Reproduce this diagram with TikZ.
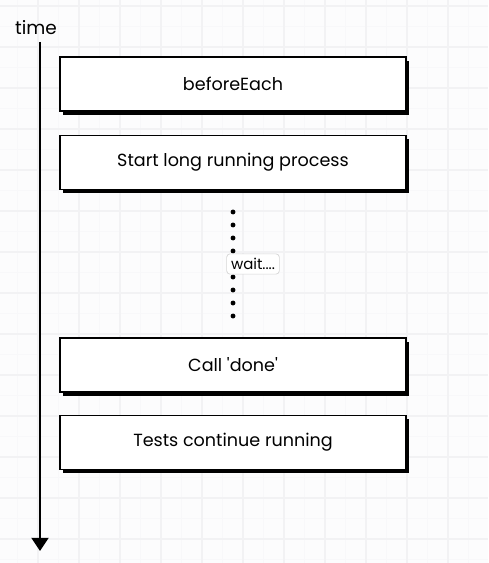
\documentclass[tikz,border=0pt]{standalone}
\usepackage{fontspec}
\setmainfont{Poppins}
\usepackage{xcolor}
\usepackage{tikz}
\usetikzlibrary{arrows.meta, positioning, shapes, shadows}

\definecolor{paper}{HTML}{FCFCFD}
\definecolor{gridmajor}{HTML}{F2F2F4}
\definecolor{gridminor}{HTML}{F8F8FA}
\definecolor{waitframe}{HTML}{D6D6D6}

\tikzset{
  stepbox/.style={draw, line width=1pt, fill=white, minimum width=6.92cm, minimum height=1.08cm,
    drop shadow={shadow xshift=1.8pt, shadow yshift=-2pt, fill=black, opacity=1},
    font=\fontsize{10}{12}\selectfont},
  waitbox/.style={draw=waitframe, fill=white, rounded corners=2pt, inner sep=2.5pt,
    font=\fontsize{8.5}{10}\selectfont}
}

\begin{document}
\begin{tikzpicture}[x=0.02cm, y=-0.02cm]
      % Paper and faint grid
      \fill[paper] (0,0) rectangle (488,563);
      \useasboundingbox (0,0) rectangle (488,563);
      \foreach \x in {17.5,58.5,...,488} {
        \draw[gridminor, line width=0.4pt] (\x,0) -- (\x,563);
      }
      \foreach \y in {26.5,67.5,...,563} {
        \draw[gridminor, line width=0.4pt] (0,\y) -- (488,\y);
      }
      \foreach \x in {38,79,...,488} {
        \draw[gridmajor, line width=0.6pt] (\x,0) -- (\x,563);
      }
      \foreach \y in {6,47,...,563} {
        \draw[gridmajor, line width=0.6pt] (0,\y) -- (488,\y);
      }

      % Time axis
      \node (time) at (36,28) {\fontsize{10.5}{12}\selectfont time};
      \coordinate (tTop) at (40,42);
      \coordinate (tEnd) at (40,551);
      \draw[line width=1.7pt, -{Triangle[length=7.5pt, width=9.5pt]}] (tTop) -- (tEnd);

      % Steps
      \node[stepbox] (before) at (233,84) {beforeEach};
      \node[stepbox] (start) at (233,162.5) {Start long running process};
      \node[stepbox] (done) at (233,365) {Call \textquotesingle done\textquotesingle};
      \node[stepbox] (tests) at (233,442.5) {Tests continue running};

      % Waiting dots
      \foreach \k in {0,...,8} {
        \fill (233,212+13*\k) circle (1.4pt);
      }
      \node[waitbox] (wait) at (253,264) {wait....};

    \end{tikzpicture}
\end{document}
